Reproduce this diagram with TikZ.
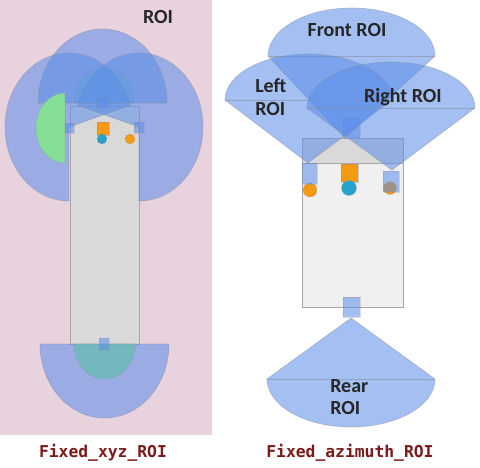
\documentclass[tikz,border=0pt]{standalone}
\usepackage{fontspec}
\setmainfont{Carlito}
\newfontfamily\capfont{DejaVu Sans Mono}
\definecolor{pinkbg}{HTML}{E8D2DE}
\definecolor{roiblue}{HTML}{5B8DE8}
\definecolor{edgegray}{HTML}{8A8FA0}
\definecolor{bodyedge}{HTML}{A8A8A8}
\definecolor{bodygray}{HTML}{D9D9D9}
\definecolor{bodylight}{HTML}{F0F0F0}
\definecolor{sensororange}{HTML}{F59A12}
\definecolor{sensorblue}{HTML}{27A3C9}
\definecolor{nearlight}{HTML}{85DE96}
\definecolor{neartop}{HTML}{A6DDB8}
\definecolor{nearrear}{HTML}{73B8BC}
\definecolor{capred}{HTML}{7B1A1A}
\tikzset{
  roi/.style={fill=roiblue,fill opacity=.55,draw=edgegray,draw opacity=.5,line width=.5pt},
  sensorbox/.style={fill=roiblue,fill opacity=.55,draw=edgegray,draw opacity=.3,line width=.4pt},
  nearroi/.style={fill=nearlight,draw=edgegray,draw opacity=.3,line width=.4pt},
  carbody/.style={draw=bodyedge,line width=.7pt},
  orangemark/.style={fill=sensororange,draw=edgegray,draw opacity=.4,line width=.3pt},
  bluemark/.style={fill=sensorblue,draw=edgegray,draw opacity=.4,line width=.3pt},
  roilabel/.style={font=\bfseries\fontsize{15}{17}\selectfont,text=black!85,align=left,inner sep=0pt},
  caption/.style={font=\capfont\bfseries\fontsize{12.25}{14}\selectfont,text=capred,inner sep=0pt},
  chord/.style={edgegray,line width=.5pt,opacity=.6},
}
\begin{document}
\begin{tikzpicture}[x=.75pt,y=.75pt,yscale=-1]
\useasboundingbox (0,0) rectangle (480,468);
\fill[white] (0,0) rectangle (480,468);
% ---------- left panel
\fill[pinkbg] (0,0) rectangle (212,435);
\filldraw[carbody,fill=bodygray] (70,106) rectangle (139,344);
\filldraw[nearroi,fill=neartop] (74,103) arc[start angle=180,end angle=360,x radius=30,y radius=35] -- cycle;
% sensors
\filldraw[orangemark] (97,122) rectangle (109,135);
\filldraw[bluemark] (102,139) circle[radius=5];
\filldraw[orangemark] (130,139) circle[radius=5];
% far-range regions
\filldraw[roi] (69,201) arc[start angle=90,end angle=343,x radius=64,y radius=74] -- (69,127) -- cycle;
\filldraw[roi] (139,201) arc[start angle=90,end angle=-163,x radius=64,y radius=74] -- (139,127) -- cycle;
\filldraw[roi] (38,103) arc[start angle=180,end angle=360,x radius=64.5,y radius=74] -- cycle;
\filldraw[roi] (40,344) arc[start angle=180,end angle=0,x radius=64.5,y radius=74] -- cycle;
% near-range regions
\filldraw[nearroi] (65,93) arc[start angle=270,end angle=90,x radius=29,y radius=35] -- cycle;
\filldraw[nearroi,fill=nearrear] (74,344) arc[start angle=180,end angle=0,x radius=30.5,y radius=35] -- cycle;
\filldraw[sensorbox] (97,97) rectangle (108,108);
\filldraw[sensorbox] (65,123) rectangle (74,133);
\filldraw[sensorbox] (134,122) rectangle (144,133);
\filldraw[sensorbox] (99,338) rectangle (109,350);
\node[roilabel] (roititle) at (158,17) {ROI};
\node[caption] (capxyz) at (103,453) {Fixed\_xyz\_ROI};
% ---------- right panel
\filldraw[carbody,fill=bodylight] (302,138) rectangle (403,307);
\filldraw[carbody,fill=bodygray] (302,138) rectangle (403,163);
\filldraw[orangemark] (341,164) rectangle (358,182);
\filldraw[bluemark] (349,188) circle[radius=7.5];
\filldraw[orangemark] (310,190) circle[radius=7];
\filldraw[orangemark] (390,188) circle[radius=6.5];
\filldraw[sensorbox] (302,163) rectangle (317,184);
\filldraw[sensorbox] (383,171) rectangle (399,192);
\filldraw[sensorbox] (343,118) rectangle (360,138);
\filldraw[sensorbox] (343,297) rectangle (360,317);
% cones
\filldraw[roi] (268,56) arc[start angle=180,end angle=360,x radius=83.5,y radius=48] -- (345,138) -- cycle;
\draw[chord] (268,56) -- (435,56);
\filldraw[roi] (225,100) arc[start angle=180,end angle=360,x radius=83.5,y radius=46] -- (308,163) -- cycle;
\draw[chord] (225,100) -- (392,100);
\filldraw[roi] (307,108) arc[start angle=180,end angle=360,x radius=84,y radius=46] -- (392,170) -- cycle;
\draw[chord] (307,108) -- (475,108);
\filldraw[roi] (267,379) arc[start angle=180,end angle=0,x radius=84,y radius=48] -- (351,318) -- cycle;
\draw[chord] (267,379) -- (435,379);
\node[roilabel] (front) at (347,30) {Front ROI};
\node[roilabel,anchor=west] (left) at (255,97) {Left\\ROI};
\node[roilabel] (right) at (403,97) {Right ROI};
\node[roilabel,anchor=west] (rear) at (330,397) {Rear\\ROI};
\node[caption] (capaz) at (350,453) {Fixed\_azimuth\_ROI};
\end{tikzpicture}
\end{document}
